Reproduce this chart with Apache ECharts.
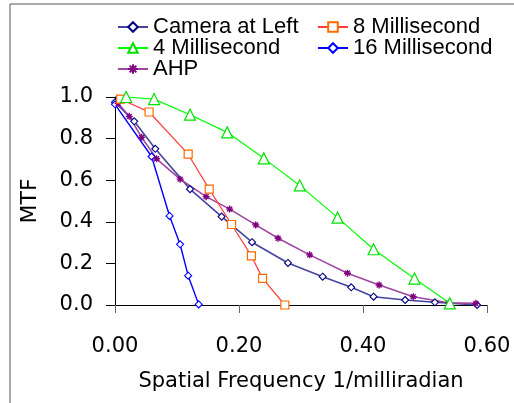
<!DOCTYPE html>
<html>
<head>
<meta charset="utf-8">
<script src="https://cdn.jsdelivr.net/npm/echarts@6/dist/echarts.min.js"></script>
<style>
  html, body { margin: 0; padding: 0; background: #fff; }
  #chart { width: 514px; height: 403px; }
</style>
</head>
<body>
<div id="chart"></div>
<script>
// values
const camX = [0, 0.031, 0.065, 0.121, 0.172, 0.221, 0.279, 0.335, 0.381, 0.417, 0.468, 0.516, 0.584];
const camY = [0.975, 0.883, 0.751, 0.557, 0.425, 0.302, 0.202, 0.136, 0.085, 0.040, 0.024, 0.013, 0.0];
const ms16X = [0, 0.059, 0.088, 0.105, 0.118, 0.135];
const ms16Y = [0.965, 0.714, 0.428, 0.292, 0.141, 0.003];
const ms8X = [0.009, 0.055, 0.118, 0.152, 0.188, 0.220, 0.238, 0.274];
const ms8Y = [0.99, 0.928, 0.725, 0.557, 0.387, 0.236, 0.128, 0.0];
const ms4X = [0.018, 0.063, 0.121, 0.181, 0.240, 0.298, 0.359, 0.417, 0.483, 0.540];
const ms4Y = [1.0, 0.99, 0.915, 0.83, 0.705, 0.575, 0.42, 0.268, 0.127, 0.008];
const ahpX = [0.005, 0.023, 0.043, 0.067, 0.105, 0.147, 0.185, 0.227, 0.263, 0.314, 0.375, 0.426, 0.481, 0.538, 0.582];
const ahpY = [0.97, 0.907, 0.806, 0.703, 0.605, 0.521, 0.461, 0.385, 0.321, 0.241, 0.153, 0.096, 0.040, 0.011, 0.008];
const xTicks = [0, 0.2, 0.4, 0.6];
const yTicks = [0, 0.2, 0.4, 0.6, 0.8, 1.0];

function zip(xs, ys) {
  return xs.map((x, i) => [x, ys[i]]);
}

const asterisk = "path://M0,5L10,5M5,0L5,10M1.5,1.5L8.5,8.5M8.5,1.5L1.5,8.5";
const axisFont = "DejaVu Sans";
const legendFont = "Liberation Sans";

const chart = echarts.init(document.getElementById("chart"));
const option = {
  animation: false,
  graphic: [
    {
      type: "rect",
      shape: { x: 10, y: 4, width: 520, height: 420 },
      style: { fill: "none", stroke: "#555", lineWidth: 1 },
      silent: true,
    },
  ],
  legend: [
    {
      orient: "vertical",
      left: 112,
      top: 11,
      itemWidth: 30,
      itemHeight: 12,
      itemGap: -1,
      textStyle: { fontFamily: legendFont, fontSize: 22, color: "#000" },
      data: ["Camera at Left", "4 Millisecond", "AHP"],
    },
    {
      orient: "vertical",
      left: 312,
      top: 11,
      itemWidth: 30,
      itemHeight: 12,
      itemGap: -1,
      textStyle: { fontFamily: legendFont, fontSize: 22, color: "#000" },
      data: ["8 Millisecond", "16 Millisecond"],
    },
  ],
  grid: { left: 115, top: 97, width: 372, height: 208 },
  xAxis: {
    type: "value",
    min: xTicks[0],
    max: xTicks[xTicks.length - 1],
    interval: 0.2,
    name: "Spatial Frequency 1/milliradian",
    nameLocation: "middle",
    nameGap: 66,
    nameTextStyle: { fontFamily: axisFont, fontSize: 21, color: "#000" },
    axisLine: { lineStyle: { color: "#000", width: 1 } },
    axisTick: { length: 8, lineStyle: { color: "#666" } },
    axisLabel: {
      margin: 31,
      fontFamily: axisFont,
      fontSize: 21,
      color: "#000",
      formatter: (v) => v.toFixed(2),
    },
    splitLine: { show: false },
  },
  yAxis: {
    type: "value",
    min: yTicks[0],
    max: yTicks[yTicks.length - 1],
    interval: 0.2,
    name: "MTF",
    nameLocation: "middle",
    nameGap: 74,
    nameTextStyle: { fontFamily: axisFont, fontSize: 22, color: "#000" },
    axisLine: { show: true, lineStyle: { color: "#000", width: 1 } },
    axisTick: { show: true, length: 9, lineStyle: { color: "#000" } },
    axisLabel: {
      margin: 22,
      fontFamily: axisFont,
      fontSize: 21,
      color: "#000",
      formatter: (v) => v.toFixed(1),
    },
    splitLine: { show: false },
  },
  series: [
    {
      name: "Camera at Left",
      type: "line",
      data: zip(camX, camY),
      symbol: "diamond",
      symbolSize: 7,
      lineStyle: { color: "#4545a0", width: 1.6 },
      itemStyle: { color: "#fff", borderColor: "#000080", borderWidth: 1.1 },
      z: 3,
    },
    {
      name: "8 Millisecond",
      type: "line",
      data: zip(ms8X, ms8Y),
      symbol: "rect",
      symbolSize: 8,
      lineStyle: { color: "#ff3b3b", width: 1.2 },
      itemStyle: { color: "#fff", borderColor: "#ff6a00", borderWidth: 1.2 },
      z: 4,
    },
    {
      name: "4 Millisecond",
      type: "line",
      data: zip(ms4X, ms4Y),
      symbol: "triangle",
      symbolSize: 11,
      lineStyle: { color: "#00ff00", width: 1.2 },
      itemStyle: { color: "#fff", borderColor: "#00e000", borderWidth: 1.2 },
      z: 4,
    },
    {
      name: "16 Millisecond",
      type: "line",
      data: zip(ms16X, ms16Y),
      symbol: "diamond",
      symbolSize: 7,
      lineStyle: { color: "#0000ff", width: 1.4 },
      itemStyle: { color: "#fff", borderColor: "#0000ff", borderWidth: 1.1 },
      z: 3,
    },
    {
      name: "AHP",
      type: "line",
      data: zip(ahpX, ahpY),
      symbol: asterisk,
      symbolSize: 7,
      lineStyle: { color: "#a045a0", width: 1.6 },
      itemStyle: { color: "none", borderColor: "#800080", borderWidth: 1.4 },
      z: 3,
    },
  ],
};
chart.setOption(option);
</script>
</body>
</html>
